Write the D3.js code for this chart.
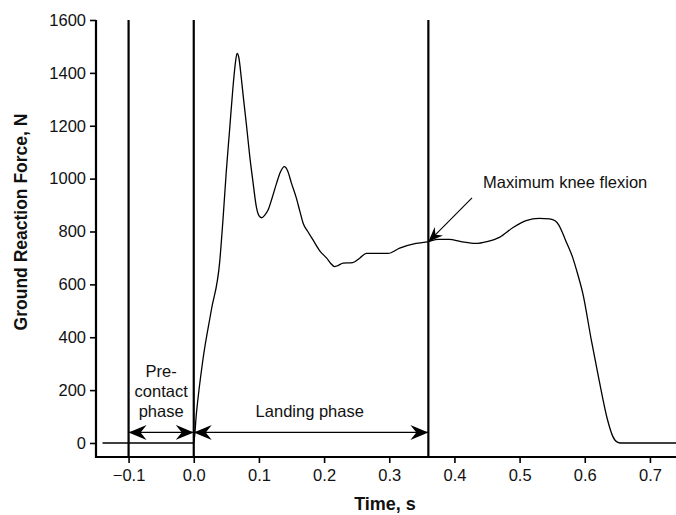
<!DOCTYPE html>
<html>
<head>
<meta charset="utf-8">
<script src="https://cdn.jsdelivr.net/npm/d3@7"></script>
<style>
  body { margin: 0; background: #fff; }
  svg { font-family: "Liberation Sans", Arial, sans-serif; }
</style>
</head>
<body>
<svg id="chart" width="676" height="515"></svg>
<script>
// ground reaction force trace
const timeVals = [-0.14, 0.0, 0.004, 0.014, 0.027, 0.040, 0.045, 0.050, 0.055, 0.060, 0.064, 0.0665,
  0.069, 0.073, 0.076, 0.081, 0.086, 0.091, 0.096, 0.100, 0.104, 0.109, 0.114, 0.120, 0.127, 0.133,
  0.139, 0.144, 0.150, 0.157, 0.163, 0.168, 0.175, 0.183, 0.194, 0.204, 0.210, 0.216, 0.222, 0.229,
  0.244, 0.255, 0.265, 0.298, 0.316, 0.341, 0.359, 0.375, 0.392, 0.410, 0.433, 0.450, 0.469, 0.490,
  0.510, 0.530, 0.546, 0.555, 0.560, 0.565, 0.570, 0.581, 0.589, 0.597, 0.610, 0.622, 0.635, 0.643,
  0.650, 0.655, 0.74];
const forceVals = [0, 0, 110, 314, 503, 690, 850, 1030, 1184, 1340, 1440, 1474,
  1460, 1380, 1310, 1200, 1083, 985, 894, 860, 852, 862, 881, 925, 982, 1025,
  1045, 1030, 982, 930, 875, 830, 800, 768, 725, 699, 680, 667, 672, 680,
  682, 700, 717, 717, 737, 755, 761, 770, 770, 762, 755, 762, 778, 815,
  841, 850, 848, 840, 825, 800, 770, 705, 640, 566, 390, 238, 87, 25,
  3, 0, 0];

const xTicks = [-0.1, 0, 0.1, 0.2, 0.3, 0.4, 0.5, 0.6, 0.7];
const yTicks = [0, 200, 400, 600, 800, 1000, 1200, 1400, 1600];
const phaseLines = [-0.1, 0, 0.36];
const preLabel = ["Pre-", "contact", "phase"];
const landLabel = "Landing phase";
const kneeLabel = "Maximum knee flexion";
const kneePoint = { t: 0.36, f: 761 };

const data = timeVals.map((t, i) => ({ t: t, f: forceVals[i] }));

const svg = d3.select("#chart");

const xScale = d3.scaleLinear().domain([-0.15, 0.74]).range([96, 676]);
const yScale = d3.scaleLinear().domain([-53, 1600]).range([457, 20]);

// arrow heads
const defs = svg.append("defs");
defs.append("marker")
  .attr("id", "head")
  .attr("viewBox", "-18 -8 19 16")
  .attr("refX", 0)
  .attr("refY", 0)
  .attr("markerWidth", 19)
  .attr("markerHeight", 16)
  .attr("markerUnits", "userSpaceOnUse")
  .attr("orient", "auto-start-reverse")
  .append("path")
  .attr("d", "M0,0 L-18,-7.5 L-12,0 L-18,7.5 Z")
  .attr("fill", "#000");
defs.append("marker")
  .attr("id", "headSmall")
  .attr("viewBox", "-15 -7 16 14")
  .attr("refX", 0)
  .attr("refY", 0)
  .attr("markerWidth", 16)
  .attr("markerHeight", 14)
  .attr("markerUnits", "userSpaceOnUse")
  .attr("orient", "auto")
  .append("path")
  .attr("d", "M0,0 L-15,-6 L-10,0 L-15,6 Z")
  .attr("fill", "#000");

// axes
const yAxis = d3.axisLeft(yScale).tickValues(yTicks).tickSize(6).tickPadding(4).tickFormat(d3.format("d"));
const xAxis = d3.axisBottom(xScale).tickValues(xTicks).tickSize(6).tickPadding(6).tickFormat(d3.format(".1f"));

const yAxisG = svg.append("g").attr("transform", "translate(96,0)").call(yAxis);
const xAxisG = svg.append("g").attr("transform", "translate(0,457)").call(xAxis);

[yAxisG, xAxisG].forEach((g) => {
  g.select(".domain").remove();
  g.selectAll(".tick line").attr("stroke-width", 1.6);
  g.selectAll("text").attr("font-size", 16.5).attr("font-family", "Liberation Sans, Arial, sans-serif").attr("fill", "#111");
});
// plain axis lines
svg.append("line")
  .attr("x1", 96).attr("x2", 96)
  .attr("y1", yScale(1600)).attr("y2", 458)
  .attr("stroke", "#000").attr("stroke-width", 2.2);
svg.append("line")
  .attr("x1", 95).attr("x2", 676)
  .attr("y1", 457).attr("y2", 457)
  .attr("stroke", "#000").attr("stroke-width", 2.2);

// phase lines
svg.selectAll(".phase")
  .data(phaseLines)
  .enter()
  .append("line")
  .attr("class", "phase")
  .attr("x1", (d) => xScale(d))
  .attr("x2", (d) => xScale(d))
  .attr("y1", yScale(1600))
  .attr("y2", 457)
  .attr("stroke", "#000")
  .attr("stroke-width", 2.2);

// force curve
const line = d3.line()
  .x((d) => xScale(d.t))
  .y((d) => yScale(d.f))
  .curve(d3.curveMonotoneX);

svg.append("path")
  .datum(data)
  .attr("d", line)
  .attr("fill", "none")
  .attr("stroke", "#000")
  .attr("stroke-width", 1.3);

// phase arrows
const arrowY = yScale(40);
svg.append("line")
  .attr("x1", xScale(-0.1)).attr("x2", xScale(0))
  .attr("y1", arrowY).attr("y2", arrowY)
  .attr("stroke", "#000").attr("stroke-width", 1.2)
  .attr("marker-start", "url(#head)")
  .attr("marker-end", "url(#head)");
svg.append("line")
  .attr("x1", xScale(0)).attr("x2", xScale(0.36))
  .attr("y1", arrowY).attr("y2", arrowY)
  .attr("stroke", "#000").attr("stroke-width", 1.2)
  .attr("marker-start", "url(#head)")
  .attr("marker-end", "url(#head)");

// labels
svg.append("g")
  .selectAll("text")
  .data(preLabel)
  .enter()
  .append("text")
  .attr("x", (xScale(-0.1) + xScale(0)) / 2)
  .attr("y", (d, i) => 377 + i * 20)
  .attr("text-anchor", "middle")
  .attr("font-size", 16.5)
  .attr("fill", "#111")
  .text((d) => d);

svg.append("text")
  .attr("x", xScale(0.178))
  .attr("y", 417)
  .attr("text-anchor", "middle")
  .attr("font-size", 16.5)
  .attr("fill", "#111")
  .text(landLabel);

svg.append("text")
  .attr("x", xScale(0.444))
  .attr("y", 188)
  .attr("font-size", 16.5)
  .attr("fill", "#111")
  .text(kneeLabel);

svg.append("line")
  .attr("x1", xScale(0.427)).attr("y1", yScale(927))
  .attr("x2", xScale(kneePoint.t)).attr("y2", yScale(kneePoint.f))
  .attr("stroke", "#000").attr("stroke-width", 1.1)
  .attr("marker-end", "url(#headSmall)");

// axis titles
svg.append("text")
  .attr("x", 385)
  .attr("y", 510)
  .attr("text-anchor", "middle")
  .attr("font-size", 18)
  .attr("font-weight", "bold")
  .attr("fill", "#111")
  .text("Time, s");

svg.append("text")
  .attr("transform", "translate(27,222) rotate(-90)")
  .attr("text-anchor", "middle")
  .attr("font-size", 17.5)
  .attr("font-weight", "bold")
  .attr("fill", "#111")
  .text("Ground Reaction Force, N");
</script>
</body>
</html>
